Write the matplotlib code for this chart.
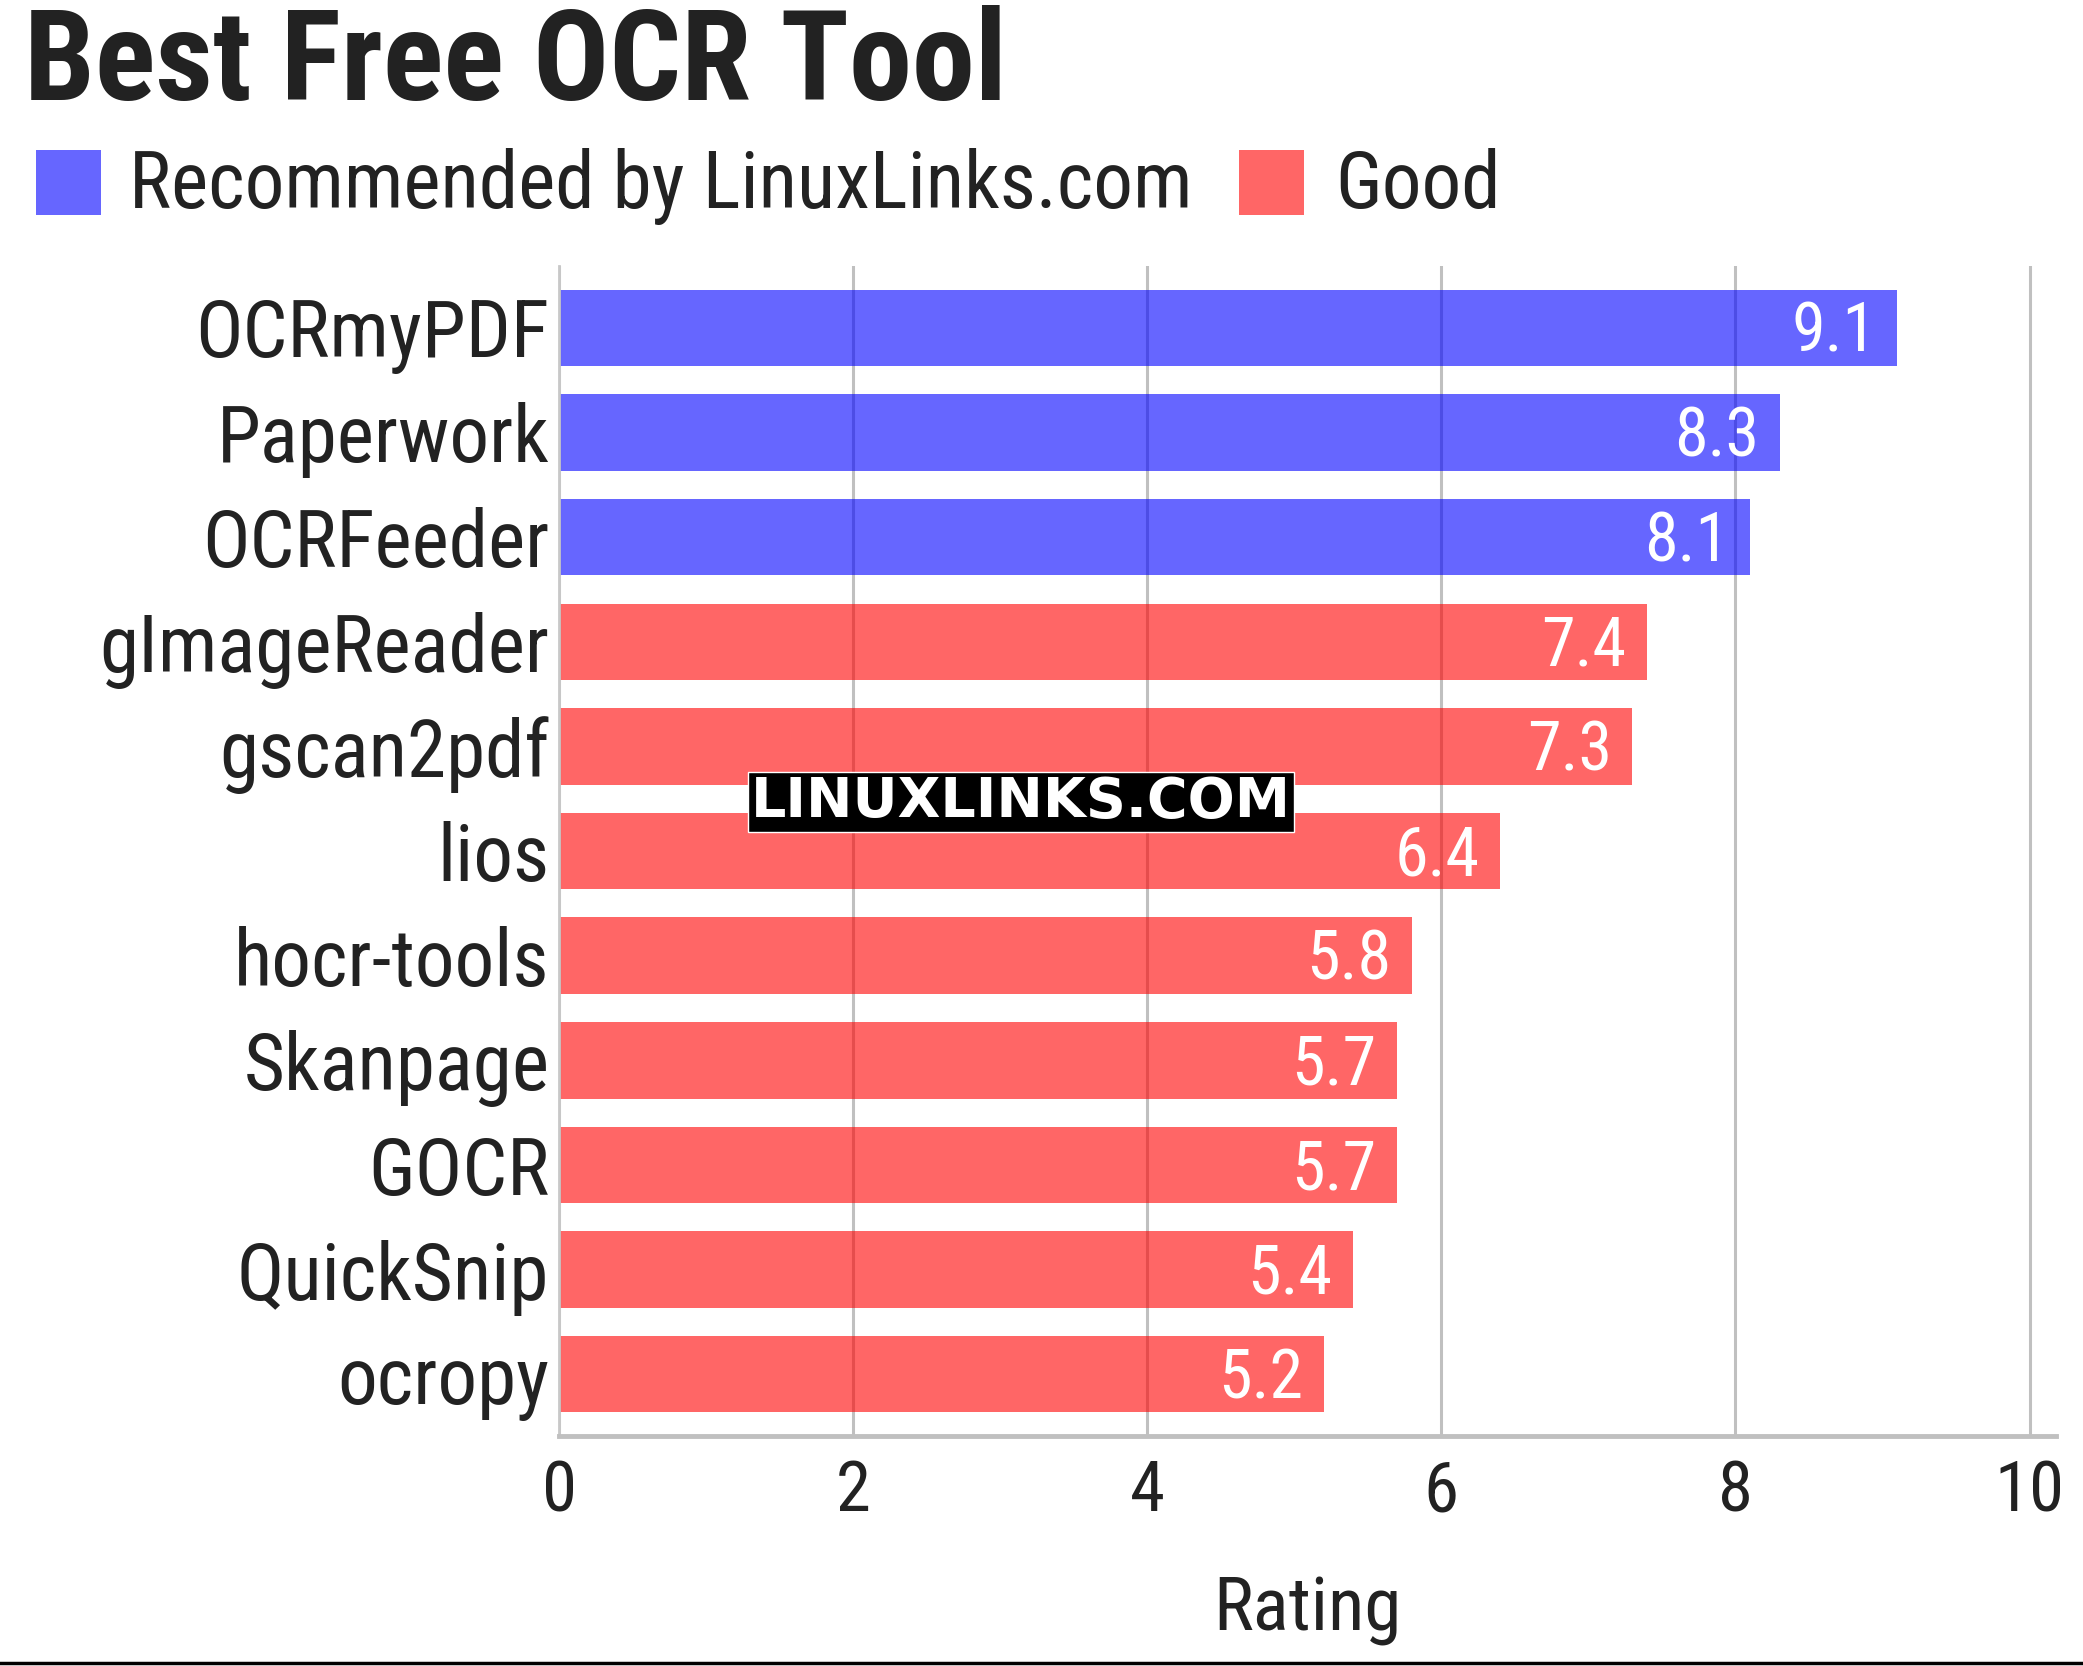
import matplotlib
matplotlib.use("Agg")
import matplotlib.pyplot as plt
from matplotlib.patches import Rectangle

tools = ["OCRmyPDF", "Paperwork", "OCRFeeder", "gImageReader", "gscan2pdf", "lios",
         "hocr-tools", "Skanpage", "GOCR", "QuickSnip", "ocropy"]
ratings = [9.1, 8.3, 8.1, 7.4, 7.3, 6.4, 5.8, 5.7, 5.7, 5.4, 5.2]
groups = ["rec", "rec", "rec", "good", "good", "good", "good", "good", "good", "good", "good"]
group_labels = {"rec": "Recommended by LinuxLinks.com", "good": "Good"}
group_colors = {"rec": "#0000ff", "good": "#ff0000"}

plt.rcParams["font.family"] = ["Roboto Condensed", "Roboto", "DejaVu Sans"]
text_color = "#222222"

W, H = 2083, 1666
fig = plt.figure(figsize=(W / 100, H / 100), dpi=100)
ax = fig.add_axes([559 / W, 1 - 1436 / H, (2056 - 559) / W, (1436 - 266) / H])

ypos = list(range(len(tools)))
colors = [group_colors[g] for g in groups]
ax.barh(ypos, ratings, height=0.73, color=colors, alpha=0.6, zorder=2)

# value labels inside bar ends
for y, v in zip(ypos, ratings):
    ax.text(v - 0.14, y + 0.05, f"{v}", color="white", fontsize=49, ha="right", va="center", zorder=3)

ax.set_xlim(0, 10.18)
ax.set_ylim(len(tools) - 0.41, -0.59)
ax.set_yticks(ypos)
ax.set_yticklabels(tools, fontsize=57, color=text_color)
ax.set_xticks([0, 2, 4, 6, 8, 10])
ax.tick_params(axis="both", length=0, colors=text_color)
ax.tick_params(axis="y", pad=7)
ax.tick_params(axis="x", pad=16, labelsize=51)
ax.grid(axis="x", color="#c0c0c0", linewidth=2.2, zorder=1)
ax.set_axisbelow(True)
for s in ["top", "right"]:
    ax.spines[s].set_visible(False)
ax.spines["left"].set_color("#c8c8c8")
ax.spines["left"].set_linewidth(2)
ax.spines["bottom"].set_color("#c0c0c0")
ax.spines["bottom"].set_linewidth(3.5)
ax.set_xlabel("Rating", fontsize=54, color=text_color, labelpad=35)

# title
fig.text(24 / W, 1 - 100 / H, "Best Free OCR Tool", fontsize=91, fontweight="bold",
         color=text_color, ha="left", va="baseline")

# legend
leg_items = [("rec", 36, 129), ("good", 1239, 1335)]
for g, bx, tx in leg_items:
    fig.add_artist(Rectangle((bx / W, 1 - 215 / H), 65 / W, 65 / H, transform=fig.transFigure,
                             color=group_colors[g], alpha=0.6, lw=0))
    fig.text(tx / W, 1 - 208 / H, group_labels[g], fontsize=57, color=text_color,
             ha="left", va="baseline")

# watermark
fig.text(1021 / W, 1 - 802 / H, "LINUXLINKS.COM", fontsize=40, fontweight="bold",
         family="DejaVu Sans", color="white", ha="center", va="center",
         bbox=dict(facecolor="black", edgecolor="white", boxstyle="square,pad=0.05"),
         zorder=5)

# bottom rule
fig.add_artist(plt.Line2D([0, 1], [3 / H, 3 / H], transform=fig.transFigure, color="black", lw=2.5))

fig.savefig("out.png", dpi=100)
